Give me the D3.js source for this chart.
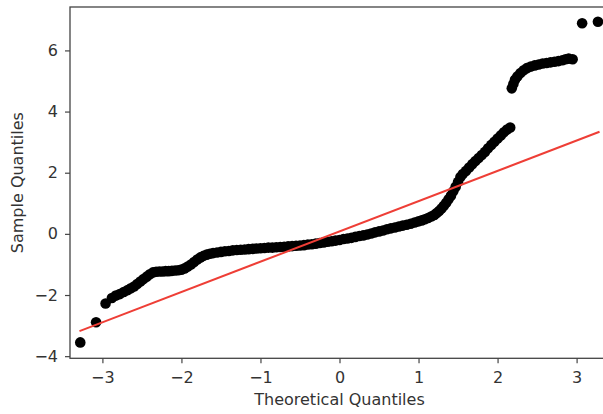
<!DOCTYPE html>
<html>
<head>
<meta charset="utf-8">
<script src="https://cdn.jsdelivr.net/npm/d3@7"></script>
<style>
  body { margin: 0; background: #fff; }
  text { font-family: 'DejaVu Sans', sans-serif; fill: #333; }
</style>
</head>
<body>
<script>
// theoretical quantiles (x) and sample quantiles (y)
const theoretical = [
  -3.28, -3.08, -2.96, -2.88, -2.83, -2.78, -2.73, -2.68, -2.64, -2.60, -2.56, -2.52, -2.48, -2.44, -2.40,
  -2.36, -2.32, -2.28, -2.24, -2.20, -2.16, -2.12, -2.08, -2.04, -2.00, -1.96, -1.92, -1.88, -1.84, -1.80,
  -1.76, -1.72, -1.68, -1.64, -1.60, -1.55, -1.50, -1.45, -1.40, -1.35, -1.30, -1.25, -1.20, -1.15, -1.10,
  -1.05, -1.00, -0.95, -0.90, -0.85, -0.80, -0.75, -0.70, -0.65, -0.60, -0.55, -0.50, -0.45, -0.40, -0.35,
  -0.30, -0.25, -0.20, -0.15, -0.10, -0.05, 0.00, 0.05, 0.10, 0.15, 0.20, 0.25, 0.30, 0.35, 0.40,
  0.45, 0.50, 0.55, 0.60, 0.65, 0.70, 0.75, 0.80, 0.85, 0.90, 0.95, 1.00, 1.04, 1.08, 1.12,
  1.16, 1.20, 1.23, 1.26, 1.29, 1.32, 1.35, 1.38, 1.41, 1.44, 1.47, 1.50, 1.53, 1.56, 1.60,
  1.64, 1.68, 1.72, 1.76, 1.80, 1.84, 1.88, 1.92, 1.96, 2.00, 2.04, 2.08, 2.12, 2.16,
  2.18, 2.20, 2.22, 2.25, 2.29, 2.33, 2.37, 2.42, 2.47, 2.52, 2.57, 2.62, 2.67, 2.72, 2.77,
  2.82, 2.86, 2.90, 2.95, 3.07, 3.27
];
const sample = [
  -3.55, -2.89, -2.28, -2.10, -2.02, -1.97, -1.90, -1.84, -1.78, -1.72, -1.64, -1.56, -1.48, -1.40, -1.32,
  -1.26, -1.24, -1.23, -1.23, -1.22, -1.22, -1.21, -1.20, -1.19, -1.17, -1.13, -1.07, -1.00, -0.92, -0.84,
  -0.77, -0.72, -0.68, -0.65, -0.63, -0.61, -0.59, -0.57, -0.56, -0.54, -0.53, -0.52, -0.51, -0.50, -0.49,
  -0.48, -0.47, -0.46, -0.45, -0.45, -0.44, -0.43, -0.42, -0.41, -0.40, -0.39, -0.38, -0.37, -0.35, -0.34,
  -0.32, -0.30, -0.28, -0.26, -0.24, -0.22, -0.20, -0.17, -0.15, -0.13, -0.10, -0.07, -0.05, -0.02, 0.01,
  0.05, 0.08, 0.11, 0.15, 0.18, 0.21, 0.24, 0.27, 0.30, 0.33, 0.37, 0.41, 0.44, 0.48, 0.52,
  0.57, 0.62, 0.68, 0.75, 0.83, 0.92, 1.02, 1.13, 1.25, 1.39, 1.54, 1.70, 1.86, 1.96, 2.06,
  2.17, 2.28, 2.38, 2.48, 2.58, 2.68, 2.80, 2.91, 3.01, 3.12, 3.22, 3.32, 3.41, 3.48,
  4.76, 4.90, 5.04, 5.15, 5.26, 5.35, 5.42, 5.47, 5.51, 5.54, 5.57, 5.59, 5.61, 5.63, 5.65,
  5.68, 5.71, 5.73, 5.71, 6.89, 6.94
];

// fitted reference line, end points
const lineX = [-3.29, 3.29];
const lineY = [-3.18, 3.34];

const xTicks = [-3, -2, -1, 0, 1, 2, 3];
const yTicks = [-4, -2, 0, 2, 4, 6];

const points = theoretical.map((x, i) => ({ x: x, y: sample[i] }));
const linePoints = lineX.map((x, i) => ({ x: x, y: lineY[i] }));

const width = 603;
const height = 414;
const plot = { left: 70, right: 609, top: 7, bottom: 358.3 };

const xScale = d3.scaleLinear()
  .domain([-3.41, 3.41])
  .range([plot.left, plot.right]);

const yScale = d3.scaleLinear()
  .domain([-4.07, 7.42])
  .range([plot.bottom, plot.top]);

const fmt = (d) => (d < 0 ? '\u2212' + Math.abs(d) : '' + d);

const svg = d3.select('body')
  .append('svg')
  .attr('width', width)
  .attr('height', height);

svg
  .append('g')
  .selectAll('circle')
  .data(points)
  .enter()
  .append('circle')
  .attr('cx', (d) => xScale(d.x))
  .attr('cy', (d) => yScale(d.y))
  .attr('r', 5.3)
  .style('fill', '#000');

svg
  .append('path')
  .datum(linePoints)
  .attr('d', d3.line().x((d) => xScale(d.x)).y((d) => yScale(d.y)))
  .style('fill', 'none')
  .style('stroke', '#ee3e36')
  .style('stroke-width', 2);

const xAxis = d3.axisBottom(xScale)
  .tickValues(xTicks)
  .tickFormat(fmt)
  .tickSize(5)
  .tickPadding(8);

const yAxis = d3.axisLeft(yScale)
  .tickValues(yTicks)
  .tickFormat(fmt)
  .tickSize(5)
  .tickPadding(7);

const gx = svg
  .append('g')
  .attr('transform', 'translate(0,' + plot.bottom + ')')
  .call(xAxis);

const gy = svg
  .append('g')
  .attr('transform', 'translate(' + plot.left + ',0)')
  .call(yAxis);

[gx, gy].forEach((g) => {
  g.select('.domain').remove();
  g.selectAll('line').style('stroke', '#444').style('stroke-width', 1.2);
  g.selectAll('text')
    .style('font-size', '16px')
    .style('font-family', "'DejaVu Sans', sans-serif")
    .style('fill', '#333');
});

// spines
svg
  .append('rect')
  .attr('x', plot.left)
  .attr('y', plot.top)
  .attr('width', plot.right - plot.left)
  .attr('height', plot.bottom - plot.top)
  .style('fill', 'none')
  .style('stroke', '#444')
  .style('stroke-width', 1.3);

svg
  .append('text')
  .attr('x', (plot.left + plot.right) / 2)
  .attr('y', 405)
  .text('Theoretical Quantiles')
  .style('font-size', '16px')
  .style('text-anchor', 'middle');

svg
  .append('text')
  .attr('transform', 'translate(22.5,' + (plot.top + plot.bottom) / 2 + ') rotate(-90)')
  .text('Sample Quantiles')
  .style('font-size', '16px')
  .style('text-anchor', 'middle');
</script>
</body>
</html>
